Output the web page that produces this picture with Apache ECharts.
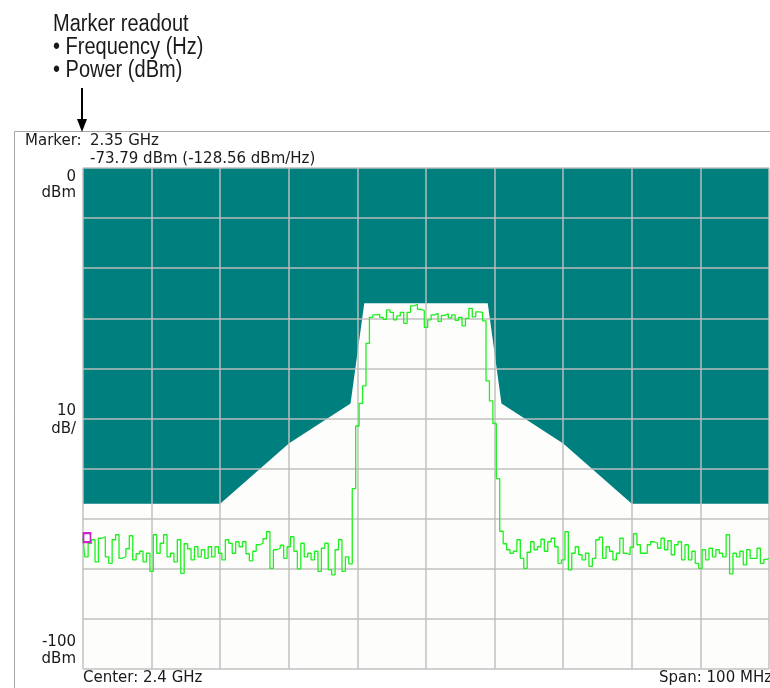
<!DOCTYPE html>
<html>
<head>
<meta charset="utf-8">
<title>Marker readout</title>
<script src="https://cdn.jsdelivr.net/npm/echarts@6/dist/echarts.min.js"></script>
<style>
  body { margin: 0; background: #ffffff; }
  #chart { width: 770px; height: 688px; }
</style>
</head>
<body>
<div id="chart"></div>
<script>
// frequency offsets from centre, MHz (span -50..+50 around 2.4 GHz)
var traceStartMHz = -50;
var traceStepMHz = 0.5;

// measured trace, dBm, one value every 0.5 MHz
var lowerNoiseDbm = [
    -73.8, -77.6, -74.9, -74.2, -78.6, -73.9, -73.6, -77.6, -78.9, -74.2,
    -73.2, -77.9, -77.6, -76.0, -73.4, -78.2, -77.0, -76.5, -78.6, -76.9,
    -80.5, -73.2, -76.9, -74.9, -73.2, -77.6, -76.9, -78.6, -74.2, -80.9,
    -75.0, -76.0, -78.2, -75.6, -77.6, -76.2, -77.9, -75.6, -77.6, -75.6,
    -76.9, -78.2, -74.2, -74.9, -76.9, -74.6, -75.6, -74.6, -77.0, -78.4,
    -76.5, -75.2, -74.9, -74.0, -72.6, -79.9, -76.2, -75.9, -75.3, -77.9,
    -75.6, -73.6, -76.5, -80.0, -74.9, -77.6, -76.9, -78.2, -76.5, -80.5,
    -75.9, -74.9, -80.2, -81.2, -76.2, -74.2, -80.5, -77.6, -79.0
];
var channelDbm = [
    -64, -51.5, -47, -43.5, -35,
    -29.8, -29.3, -29.2, -29.8, -30.2, -28.3, -28.8, -30.3, -29.5, -28.8,
    -31.0, -28.8, -27.5, -27.2, -28.2, -28.4, -31.8, -30.3, -29.3, -29.0,
    -30.6, -29.4, -29.1, -29.9, -29.3, -30.4, -29.8, -31.5, -30.0, -28.0,
    -29.7, -28.7, -28.8, -30.5,
    -42.5, -46.5, -51, -62, -72.5
];
var upperNoiseDbm = [
    -75.0, -76.2, -76.9, -76.5, -74.2, -77.9, -79.9, -76.7, -74.6, -76.2,
    -75.6, -74.1, -76.5, -74.6, -73.9, -75.6, -78.9, -78.2, -72.6, -80.2,
    -76.9, -75.6, -77.2, -78.2, -76.9, -79.5, -77.9, -74.2, -73.7, -77.9,
    -75.6, -76.5, -78.2, -76.9, -73.9, -76.9, -77.2, -75.7, -73.0, -75.2,
    -76.9, -76.9, -75.2, -74.6, -74.9, -75.9, -73.9, -76.2, -74.4, -77.2,
    -75.2, -74.6, -78.2, -75.2, -78.2, -76.5, -78.9, -79.9, -76.2, -78.2,
    -75.9, -77.6, -76.2, -76.9, -77.6, -73.2, -81.0, -76.9, -77.6, -76.5,
    -79.2, -76.2, -77.9, -77.9, -75.9, -78.9, -78.1, -77.9
];

// spectrum mask limit line
var maskMHz = [-50, -30, -20, -11, -9, 9, 11, 20, 30, 50];
var maskDbm = [-67, -67, -55, -47, -27, -27, -47, -55, -67, -67];

// marker
var markerMHz = -50;
var markerDbm = -73.79;

var screenFont = '15px "DejaVu Sans"';
var noteFont = '23px "Liberation Sans"';
var textColor = '#1a1a1a';

function txt(x, y, s, font, align, sx) {
    return {
        type: 'text', x: x, y: y, scaleX: sx || 1, z: 10,
        style: {
            text: s, x: 0, y: 0, font: font, fill: textColor,
            align: align || 'left', textAlign: align || 'left',
            verticalAlign: 'middle', textVerticalAlign: 'middle'
        }
    };
}

function genChart(anchorId) {
    var chart = echarts.init(document.getElementById(anchorId));

    var dbm = lowerNoiseDbm.concat(channelDbm, upperNoiseDbm);
    var trace = [];
    for (var i = 0; i < dbm.length; i++) {
        trace.push([traceStartMHz + i * traceStepMHz, dbm[i]]);
    }
    var mask = [];
    for (var j = 0; j < maskMHz.length; j++) {
        mask.push([maskMHz[j], maskDbm[j]]);
    }

    var gridLine = { show: true, lineStyle: { color: 'rgba(190,190,190,0.72)', width: 2 } };

    var option = {
        backgroundColor: '#ffffff',
        animation: false,
        grid: { left: 83, top: 168, width: 686, height: 501, show: true,
                backgroundColor: '#fdfdfb', borderWidth: 0 },
        xAxis: {
            type: 'value', min: -50, max: 50, interval: 10, z: 2,
            axisLine: { show: false }, axisTick: { show: false }, axisLabel: { show: false },
            splitLine: gridLine
        },
        yAxis: {
            type: 'value', min: -100, max: 0, interval: 10, z: 2,
            axisLine: { show: false }, axisTick: { show: false }, axisLabel: { show: false },
            splitLine: gridLine
        },
        series: [
            {
                name: 'mask', type: 'line', z: 1, data: mask,
                symbol: 'none', silent: true,
                lineStyle: { width: 0, color: '#007f7f' },
                areaStyle: { origin: 'end', color: '#007f7f', opacity: 1 }
            },
            {
                name: 'trace', type: 'line', z: 3, data: trace,
                symbol: 'none', step: 'middle',
                lineStyle: { width: 1.3, color: '#1ff01f' },
                markPoint: {
                    symbol: 'rect', symbolSize: [7, 9], symbolOffset: [4, 0],
                    itemStyle: { color: 'rgba(0,0,0,0)', borderColor: '#cc22cc', borderWidth: 2 },
                    label: { show: false },
                    data: [{ coord: [markerMHz, markerDbm] }]
                }
            }
        ],
        graphic: [
            { type: 'rect', z: 9, shape: { x: 14.5, y: 131.5, width: 800, height: 600 },
              style: { fill: 'none', stroke: '#a8a8a8', lineWidth: 1 } },
            // callout
            txt(53, 25, 'Marker readout', noteFont, 'left', 0.87),
            txt(53, 48, '\u2022 Frequency (Hz)', noteFont, 'left', 0.87),
            txt(53, 71, '\u2022 Power (dBm)', noteFont, 'left', 0.87),
            { type: 'line', z: 10, shape: { x1: 82, y1: 88, x2: 82, y2: 122 },
              style: { stroke: '#000', lineWidth: 2 } },
            { type: 'polygon', z: 10, shape: { points: [[77, 119], [87, 119], [82, 132]] },
              style: { fill: '#000' } },
            // readout
            txt(25, 141, 'Marker:', screenFont),
            txt(90, 141, '2.35 GHz', screenFont),
            txt(90, 159, '-73.79 dBm (-128.56 dBm/Hz)', screenFont),
            // scale labels
            txt(76, 177, '0', screenFont, 'right'),
            txt(76, 193, 'dBm', screenFont, 'right'),
            txt(76, 411, '10', screenFont, 'right'),
            txt(76, 429, 'dB/', screenFont, 'right'),
            txt(76, 642, '-100', screenFont, 'right'),
            txt(76, 659, 'dBm', screenFont, 'right'),
            txt(83, 678, 'Center: 2.4 GHz', screenFont),
            txt(659, 678, 'Span: 100 MHz', screenFont)
        ]
    };
    chart.setOption(option, true);
    window.onresize = chart.resize;
}

genChart('chart');
</script>
</body>
</html>
